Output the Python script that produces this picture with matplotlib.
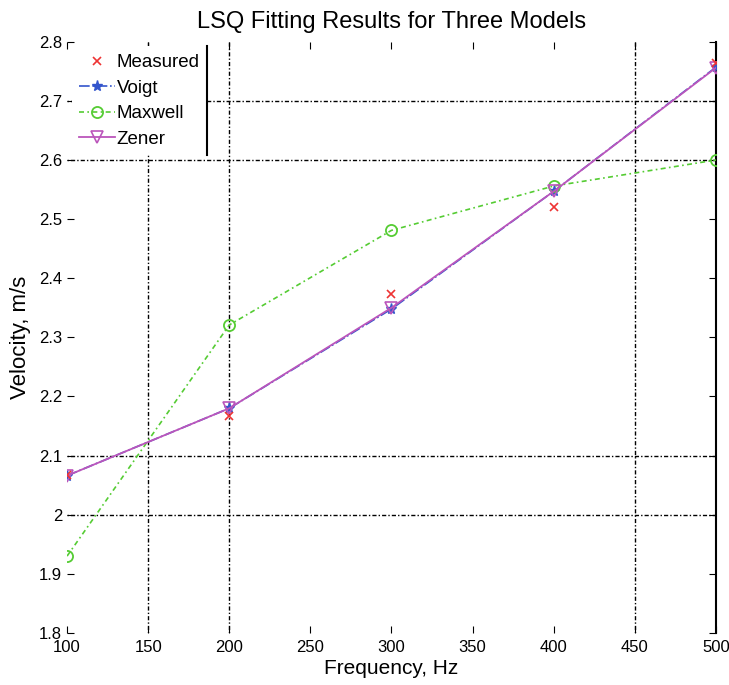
import matplotlib
matplotlib.use("Agg")
import matplotlib.pyplot as plt
from matplotlib.lines import Line2D

plt.rcParams['font.family'] = ['Liberation Sans', 'DejaVu Sans']

freq = [100, 200, 300, 400, 500]
measured = [2.067, 2.167, 2.374, 2.521, 2.764]
vogt = [2.066, 2.180, 2.348, 2.547, 2.757]
maxwell = [1.930, 2.321, 2.481, 2.556, 2.600]
zener = [2.066, 2.180, 2.350, 2.547, 2.756]

xticks = [100, 150, 200, 250, 300, 350, 400, 450, 500]
yticks = [1.8, 1.9, 2.0, 2.1, 2.2, 2.3, 2.4, 2.5, 2.6, 2.7, 2.8]
ytick_labels = ['1.8', '1.9', '2', '2.1', '2.2', '2.3', '2.4', '2.5', '2.6', '2.7', '2.8']
grid_x = [150, 200, 450]
grid_y = [2.0, 2.1, 2.6, 2.7]

fig = plt.figure(figsize=(7.29, 6.85), dpi=100)
ax = fig.add_axes([0.092, 0.076, 0.890, 0.863])

gstyle = dict(color='black', linestyle=(0, (1, 1.5, 3, 1.5)), linewidth=1.0, zorder=1)
for gx in grid_x:
    ax.axvline(gx, **gstyle)
for gy in grid_y:
    ax.axhline(gy, **gstyle)

ax.plot(freq, measured, linestyle='none', marker='x', color='#ee3333',
        markersize=6, markeredgewidth=1.2, label='Measured', zorder=5)
ax.plot(freq, vogt, linestyle='-.', marker='*', color='#3355cc',
        markersize=8, linewidth=1.2, label='Voigt', zorder=3)
ax.plot(freq, maxwell, linestyle=(0, (3, 2, 1, 2)), marker='o', color='#55cc33',
        markerfacecolor='none', markersize=8, markeredgewidth=1.3, linewidth=1.2,
        label='Maxwell', zorder=3)
ax.plot(freq, zener, linestyle='-', marker='v', color='#bb55bb',
        markerfacecolor='none', markersize=8, markeredgewidth=1.2, linewidth=1.3,
        label='Zener', zorder=4)

ax.set_xlim(100, 500)
ax.set_ylim(1.8, 2.8)
ax.set_xticks(xticks)
ax.set_yticks(yticks)
ax.set_yticklabels(ytick_labels)
ax.tick_params(direction='in', length=5, labelsize=12, top=True, right=True)
ax.tick_params(axis='x', pad=5)

for side in ['left', 'top', 'bottom']:
    ax.spines[side].set_visible(False)
ax.spines['right'].set_linewidth(1.5)

ax.set_title('LSQ Fitting Results for Three Models', fontsize=17, pad=10)
ax.set_xlabel('Frequency, Hz', fontsize=15, labelpad=3)
ax.set_ylabel('Velocity, m/s', fontsize=16, labelpad=6)

leg = ax.legend(loc='upper left', fontsize=13.5, frameon=True, fancybox=False,
                borderaxespad=0.25, handlelength=1.9, labelspacing=0.45,
                borderpad=0.4, handletextpad=0.1)
leg.get_frame().set_edgecolor('none')
leg.get_frame().set_facecolor('white')
leg.get_frame().set_alpha(1.0)
leg.set_zorder(10)

fig.canvas.draw()
bb = leg.get_window_extent().transformed(fig.transFigure.inverted())
fig.add_artist(Line2D([bb.x1, bb.x1], [bb.y0, bb.y1], color='black',
                      linewidth=1.5, transform=fig.transFigure, zorder=11))

fig.savefig('out.png', dpi=100)
